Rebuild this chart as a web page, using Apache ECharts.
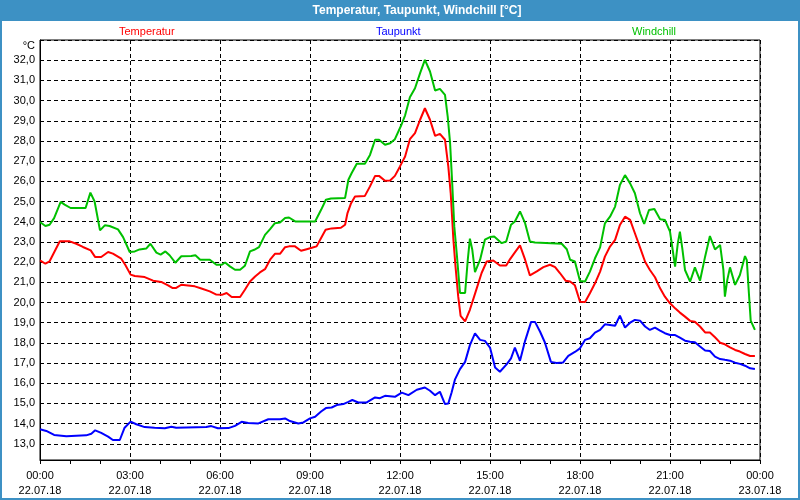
<!DOCTYPE html>
<html>
<head>
<meta charset="utf-8">
<script src="https://cdn.jsdelivr.net/npm/echarts@6/dist/echarts.min.js"></script>
<style>
html,body{margin:0;padding:0;background:#fff;}
#chart{width:800px;height:500px;}
</style>
</head>
<body>
<div id="chart"></div>
<script>
// ---- data (hours since 22.07.18 00:00) ----
var seriesNames = ['Temperatur', 'Taupunkt', 'Windchill'];

var tempHours = [0.00,0.18,0.32,0.66,0.99,1.21,1.43,1.69,1.84,2.04,2.27,2.43,2.71,2.84,3.02,3.16,3.49,3.77,4.04,4.27,4.41,4.54,4.71,5.16,5.38,5.66,5.88,6.06,6.22,6.39,6.67,6.83,7.00,7.17,7.33,7.50,7.67,7.83,8.00,8.17,8.30,8.50,8.70,8.89,9.06,9.22,9.37,9.52,9.72,10.03,10.17,10.25,10.37,10.50,10.83,11.00,11.17,11.30,11.50,11.67,11.83,12.00,12.17,12.33,12.50,12.67,12.83,13.00,13.17,13.33,13.50,13.61,13.69,13.78,13.85,13.94,14.02,14.17,14.33,14.56,14.72,14.89,15.11,15.33,15.54,15.67,15.83,16.00,16.17,16.33,16.56,16.78,17.00,17.17,17.33,17.52,17.67,17.83,18.00,18.17,18.33,18.50,18.67,18.83,19.00,19.17,19.33,19.50,19.67,19.83,20.00,20.17,20.33,20.50,20.67,20.83,21.00,21.17,21.33,21.50,21.67,21.83,22.00,22.17,22.33,22.50,22.67,22.83,23.00,23.17,23.33,23.50,23.67,23.83];
var tempValues = [22.09,21.92,22.04,23.03,23.03,22.91,22.75,22.58,22.25,22.25,22.50,22.42,22.17,21.87,21.38,21.31,21.26,21.08,21.02,20.85,20.72,20.72,20.88,20.80,20.69,20.55,20.39,20.38,20.47,20.27,20.27,20.63,21.04,21.29,21.49,21.65,22.12,22.41,22.41,22.74,22.78,22.78,22.56,22.64,22.71,22.78,23.19,23.60,23.67,23.70,23.85,24.43,24.92,25.25,25.28,25.75,26.27,26.27,26.03,26.04,26.27,26.74,27.23,28.09,28.39,29.05,29.62,29.05,28.25,28.35,28.06,26.74,25.42,23.11,21.79,20.30,19.34,19.06,19.64,20.71,21.46,22.03,22.08,21.83,21.83,22.15,22.48,22.83,22.12,21.34,21.54,21.75,21.87,21.75,21.46,21.08,21.04,20.85,20.04,20.03,20.46,20.95,21.53,22.27,22.77,23.10,23.84,24.25,24.09,23.43,22.73,22.02,21.61,21.25,20.70,20.29,19.96,19.71,19.50,19.30,19.09,19.05,18.81,18.52,18.51,18.28,18.01,17.93,17.78,17.65,17.57,17.45,17.35,17.35];

var dewHours = [0.00,0.21,0.47,0.88,1.54,1.71,1.84,2.04,2.27,2.43,2.66,2.82,3.02,3.21,3.49,3.82,4.16,4.38,4.54,5.54,5.71,5.93,6.28,6.50,6.72,6.94,7.28,7.61,8.00,8.17,8.33,8.61,8.78,9.00,9.17,9.37,9.53,9.72,9.89,10.11,10.28,10.41,10.61,10.89,11.17,11.33,11.50,11.83,12.06,12.28,12.56,12.83,13.00,13.17,13.33,13.50,13.61,13.72,13.83,14.00,14.17,14.33,14.50,14.67,14.83,15.00,15.17,15.33,15.56,15.70,15.83,16.00,16.17,16.37,16.50,16.67,16.83,17.03,17.22,17.44,17.61,17.83,18.00,18.17,18.33,18.50,18.67,18.83,19.00,19.17,19.33,19.50,19.67,19.83,20.00,20.17,20.33,20.50,20.67,20.83,21.00,21.17,21.33,21.50,21.67,21.83,22.00,22.17,22.33,22.50,22.67,22.83,23.00,23.17,23.33,23.50,23.67,23.83];
var dewValues = [13.72,13.64,13.44,13.38,13.42,13.50,13.67,13.54,13.36,13.19,13.19,13.80,14.10,13.97,13.83,13.80,13.77,13.85,13.80,13.83,13.88,13.77,13.78,13.89,14.09,14.03,14.01,14.22,14.22,14.26,14.13,14.01,14.06,14.26,14.34,14.60,14.77,14.80,14.92,14.97,15.08,15.17,15.05,15.05,15.30,15.26,15.38,15.33,15.54,15.41,15.68,15.79,15.63,15.41,15.58,14.97,15.00,15.54,16.18,16.70,17.06,17.89,18.47,18.15,18.10,17.77,16.78,16.57,16.95,17.23,17.77,17.11,18.10,19.04,19.04,18.55,18.02,17.06,17.00,17.03,17.36,17.55,17.73,18.15,18.23,18.51,18.64,18.92,18.89,18.85,19.35,18.76,19.00,19.14,19.10,18.81,18.64,18.76,18.61,18.48,18.39,18.39,18.26,18.11,18.06,18.03,17.82,17.62,17.60,17.32,17.20,17.16,17.12,17.02,16.96,16.87,16.74,16.71];

var chillHours = [0.00,0.18,0.32,0.47,0.69,0.82,1.02,1.52,1.68,1.82,2.00,2.16,2.32,2.60,2.77,2.99,3.16,3.32,3.54,3.68,3.88,4.02,4.18,4.32,4.51,4.71,5.04,5.18,5.34,5.66,5.88,6.06,6.17,6.33,6.50,6.67,6.83,7.00,7.14,7.30,7.50,7.67,7.83,8.00,8.17,8.30,8.52,9.17,9.37,9.53,9.70,10.17,10.28,10.39,10.56,10.83,11.00,11.17,11.30,11.50,11.67,11.83,12.03,12.17,12.33,12.50,12.67,12.83,13.00,13.17,13.33,13.50,13.59,13.67,13.74,13.81,13.89,14.00,14.17,14.26,14.33,14.41,14.50,14.67,14.83,15.00,15.14,15.39,15.54,15.70,15.83,16.00,16.17,16.33,16.50,17.39,17.56,17.67,17.83,18.00,18.17,18.33,18.50,18.67,18.83,19.00,19.17,19.33,19.50,19.67,19.83,20.00,20.14,20.30,20.48,20.67,20.83,21.00,21.09,21.17,21.26,21.33,21.41,21.50,21.67,21.83,22.00,22.17,22.33,22.50,22.67,22.78,22.83,22.91,23.00,23.17,23.33,23.50,23.56,23.63,23.69,23.83];
var chillValues = [23.99,23.79,23.85,24.18,24.98,24.85,24.68,24.68,25.44,25.00,23.57,23.82,23.79,23.62,23.24,22.50,22.53,22.63,22.67,22.91,22.47,22.37,22.53,22.34,21.97,22.29,22.30,22.34,22.12,22.12,21.87,21.87,21.98,21.79,21.62,21.62,21.82,22.53,22.61,22.74,23.35,23.63,23.93,23.96,24.18,24.21,24.01,24.01,24.59,25.09,25.15,25.18,26.08,26.41,26.87,26.87,27.31,28.06,28.06,27.81,27.89,28.09,28.74,29.27,30.17,30.61,31.36,32.02,31.44,30.50,30.58,30.28,29.21,27.89,25.91,23.77,22.45,20.47,20.47,22.12,23.16,22.61,21.50,22.12,23.11,23.24,23.27,22.94,23.02,23.85,24.01,24.51,23.93,23.02,22.97,22.91,22.64,22.12,22.03,21.06,21.04,21.53,22.19,22.73,23.92,24.25,24.75,25.82,26.31,25.90,25.41,24.42,23.89,24.58,24.63,24.12,24.09,23.51,22.60,21.78,22.93,23.51,22.68,21.61,21.03,21.74,21.08,22.27,23.29,22.63,22.85,21.61,20.29,21.12,21.74,20.87,21.36,22.30,22.10,20.46,19.10,18.64];

var xTickLabels = ['00:00\n22.07.18','03:00\n22.07.18','06:00\n22.07.18','09:00\n22.07.18','12:00\n22.07.18','15:00\n22.07.18','18:00\n22.07.18','21:00\n22.07.18','00:00\n23.07.18'];
var yTickValues = [13,14,15,16,17,18,19,20,21,22,23,24,25,26,27,28,29,30,31,32];

var seriesColors = ['#ff0000', '#0000ff', '#00c000'];

function zip(h, v) { return h.map(function (x, i) { return [x, v[i]]; }); }

var FONT = '"Liberation Sans", Arial, sans-serif';

var chart = echarts.init(document.getElementById('chart'), null, { renderer: 'canvas' });

function legendAt(name, color, left) {
  return {
    data: [name], left: left, top: 25, padding: 0,
    icon: 'none', itemWidth: 0, itemHeight: 14, selectedMode: false,
    textStyle: { color: color, fontFamily: FONT, fontSize: 11 }
  };
}

var option = {
  animation: false,
  backgroundColor: '#ffffff',
  legend: [
    legendAt(seriesNames[0], seriesColors[0], 114),
    legendAt(seriesNames[1], seriesColors[1], 371),
    legendAt(seriesNames[2], seriesColors[2], 627)
  ],
  grid: {
    left: 40, right: 40, top: 40, bottom: 40,
    show: true, backgroundColor: '#ffffff', borderColor: '#000', borderWidth: 1
  },
  xAxis: {
    type: 'value', min: 0, max: 24, interval: 3,
    axisLine: { show: true, lineStyle: { color: '#000', width: 1 } },
    axisTick: { show: true, length: 4, lineStyle: { color: '#000' } },
    minorTick: { show: true, splitNumber: 3, length: 4, lineStyle: { color: '#000' } },
    splitLine: { show: true, lineStyle: { color: '#000', type: [4, 3], width: 1 } },
    axisLabel: {
      margin: 8, lineHeight: 15, color: '#000', fontFamily: FONT, fontSize: 11,
      formatter: function (v) { return xTickLabels[Math.round(v / 3)]; }
    }
  },
  yAxis: {
    type: 'value', min: 12.2, max: 33, minInterval: 1, maxInterval: 1, splitNumber: 21,
    axisLine: { show: true, lineStyle: { color: '#000', width: 1 } },
    axisTick: { show: false },
    splitLine: { show: true, lineStyle: { color: '#000', type: [4, 3], width: 1 } },
    axisLabel: {
      margin: 5, color: '#000', fontFamily: FONT, fontSize: 11,
      formatter: function (v) {
        var r = Math.round(v);
        if (Math.abs(v - r) > 1e-6 || yTickValues.indexOf(r) < 0) return '';
        return r.toFixed(1).replace('.', ',');
      }
    }
  },
  series: [
    { name: seriesNames[0], type: 'line', data: zip(tempHours, tempValues) },
    { name: seriesNames[1], type: 'line', data: zip(dewHours, dewValues) },
    { name: seriesNames[2], type: 'line', data: zip(chillHours, chillValues) }
  ].map(function (s, i) {
    s.showSymbol = false; s.symbol = 'none'; s.smooth = false;
    s.lineStyle = { color: seriesColors[i], width: 2 };
    s.itemStyle = { color: seriesColors[i] };
    return s;
  }),
  graphic: [
    { type: 'rect', shape: { x: 0, y: 0, width: 800, height: 21 }, style: { fill: '#3d91c4' }, z: 10 },
    { type: 'text', x: 417, y: 11, style: { text: 'Temperatur, Taupunkt, Windchill [°C]', fill: '#ffffff', font: 'bold 12px ' + FONT, textAlign: 'center', textVerticalAlign: 'middle' }, z: 11 },
    { type: 'text', x: 35, y: 46, style: { text: '°C', fill: '#000', font: '11px ' + FONT, textAlign: 'right', textVerticalAlign: 'middle' }, z: 11 },
    { type: 'rect', shape: { x: 1, y: 1, width: 798, height: 498 }, style: { fill: 'none', stroke: '#3d91c4', lineWidth: 2 }, z: 12 }
  ]
};
chart.setOption(option);
</script>
</body>
</html>
